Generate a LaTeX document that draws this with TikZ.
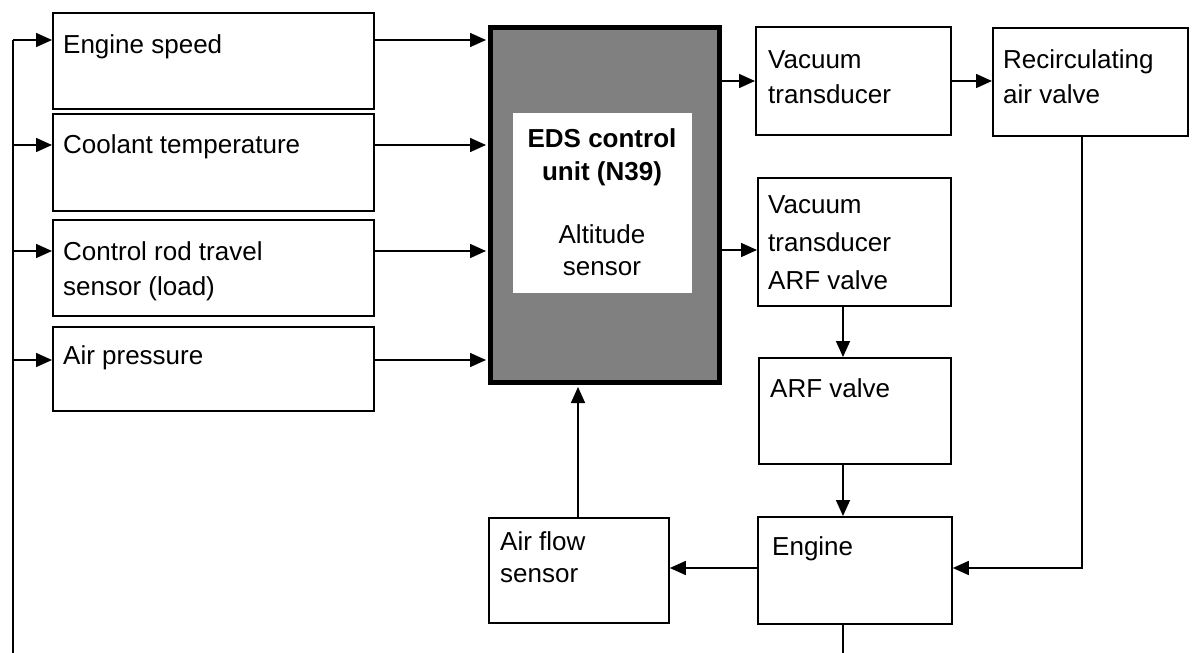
\documentclass[tikz,border=0pt]{standalone}
\usepackage{fontspec}
\setmainfont{Liberation Sans}
\usetikzlibrary{arrows.meta,calc}
\begin{document}
\begin{tikzpicture}[x=1pt,y=-1pt,
 box/.style={draw=black,line width=1.8pt,anchor=north west,inner sep=0pt,fill=white},
 lbl/.style={anchor=base west,inner sep=0pt,align=left,font=\fontsize{26}{35}\selectfont},
 conn/.style={line width=1.6pt},
 arr/.style={conn,-{Triangle[length=16pt,width=14pt]}}]
\useasboundingbox (0,0) rectangle (1192,653);
% left boxes
\node[box,minimum width=321pt,minimum height=96pt] (es) at (52,12) {};
\node[box,minimum width=321pt,minimum height=97pt] (ct) at (52,113) {};
\node[box,minimum width=321pt,minimum height=96pt] (cr) at (52,219) {};
\node[box,minimum width=321pt,minimum height=84pt] (ap) at (52,326) {};
% EDS unit
\node[box,line width=5pt,fill=black!50,minimum width=229pt,minimum height=355pt] (eds) at (488,25) {};
\node[anchor=north west,fill=white,inner sep=0pt,minimum width=179pt,minimum height=180pt] (edsin) at (513,113) {};
% right boxes
\node[box,minimum width=195pt,minimum height=108pt] (vt1) at (755,26) {};
\node[box,minimum width=195pt,minimum height=108pt] (rav) at (992,27) {};
\node[box,minimum width=193pt,minimum height=128pt] (vt2) at (757,177) {};
\node[box,minimum width=192pt,minimum height=106pt] (arf) at (758,357) {};
\node[box,minimum width=194pt,minimum height=107pt] (eng) at (757,516) {};
\node[box,minimum width=180pt,minimum height=105pt] (afs) at (488,517) {};
% labels (anchor = baseline of the last line)
\node[lbl] (tes) at (63,53) {Engine speed};
\node[lbl] (tct) at (63,153) {Coolant temperature};
\node[lbl] (tcr) at (63,295) {Control rod travel\\sensor (load)};
\node[lbl] (tap) at (63,364) {Air pressure};
\node[anchor=base,inner sep=0pt,align=center,font=\fontsize{26}{33}\selectfont\bfseries] (teda) at (602,180) {EDS control\\unit (N39)};
\node[anchor=base,inner sep=0pt,align=center,font=\fontsize{26}{32}\selectfont] (tedb) at (602,275) {Altitude\\sensor};
\node[lbl] (tvt1) at (768,103) {Vacuum\\transducer};
\node[lbl] (trav) at (1003,103) {Recirculating\\air valve};
\node[lbl,font=\fontsize{26}{38}\selectfont] (tvt2) at (768,289) {Vacuum\\transducer\\ARF valve};
\node[lbl] (tarf) at (770,397) {ARF valve};
\node[lbl] (teng) at (772,555) {Engine};
\node[lbl,font=\fontsize{26}{32}\selectfont] (tafs) at (500,582) {Air flow\\sensor};
% helper coordinates
\coordinate (r1) at (13,40);
\coordinate (r2) at (13,145);
\coordinate (r3) at (13,251);
\coordinate (r4) at (13,360);
\coordinate (busbot) at (13,653);
\coordinate (yv1) at (0,81);
\coordinate (yv2) at (0,250);
\coordinate (ye) at (0,568);
\coordinate (xc) at (843,0);
\coordinate (xr) at (1082,0);
\coordinate (xa) at (578,0);
\coordinate (engbot) at (843,653);
% feedback bus
\draw[conn] (busbot) -- (r1);
\draw[arr] (r1) -- (es.west |- r1);
\draw[arr] (r2) -- (ct.west |- r2);
\draw[arr] (r3) -- (cr.west |- r3);
\draw[arr] (r4) -- (ap.west |- r4);
% inputs to EDS
\draw[arr,shorten >=2pt] (es.east |- r1) -- (eds.west |- r1);
\draw[arr,shorten >=2pt] (ct.east |- r2) -- (eds.west |- r2);
\draw[arr,shorten >=2pt] (cr.east |- r3) -- (eds.west |- r3);
\draw[arr,shorten >=2pt] (ap.east |- r4) -- (eds.west |- r4);
% outputs
\draw[arr] (eds.east |- yv1) -- (vt1.west |- yv1);
\draw[arr] (vt1.east |- yv1) -- (rav.west |- yv1);
\draw[arr] (eds.east |- yv2) -- (vt2.west |- yv2);
\draw[arr] (vt2.south -| xc) -- (arf.north -| xc);
\draw[arr] (arf.south -| xc) -- (eng.north -| xc);
\draw[arr] (rav.south -| xr) |- (eng.east |- ye);
\draw[arr] (eng.west |- ye) -- (afs.east |- ye);
\draw[arr,shorten >=2pt] (afs.north -| xa) -- (eds.south -| xa);
\draw[conn] (eng.south -| xc) -- (engbot);
\end{tikzpicture}
\end{document}
